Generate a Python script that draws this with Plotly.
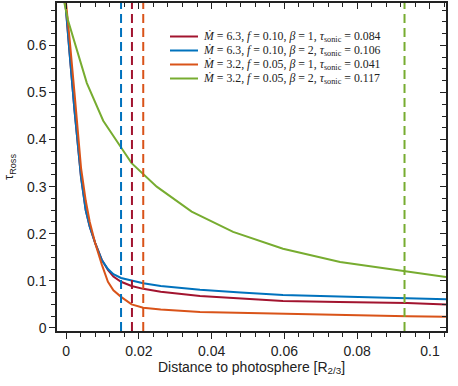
import plotly.graph_objects as go

# distance to photosphere [R_2/3] and tau_Ross for the four models
x_fast = [-0.0004, 0.0, 0.001, 0.0023, 0.0033, 0.0041, 0.0054, 0.0065, 0.008, 0.0098, 0.0115,
          0.013, 0.0151, 0.018, 0.0212, 0.026, 0.0368, 0.048, 0.0596, 0.075, 0.0937, 0.1044]
tau_b1_m63 = [0.71, 0.67, 0.58, 0.463, 0.378, 0.32, 0.25, 0.215, 0.18, 0.145, 0.123,
              0.109, 0.098, 0.089, 0.083, 0.077, 0.068, 0.062, 0.057, 0.055, 0.053, 0.050]
tau_b2_m63 = [0.71, 0.67, 0.58, 0.463, 0.378, 0.32, 0.25, 0.215, 0.18, 0.144, 0.125,
              0.114, 0.106, 0.101, 0.095, 0.089, 0.081, 0.075, 0.070, 0.067, 0.064, 0.061]
tau_b1_m32 = [0.72, 0.69, 0.61, 0.50, 0.41, 0.34, 0.27, 0.225, 0.18, 0.135, 0.098,
              0.080, 0.066, 0.050, 0.043, 0.039, 0.034, 0.032, 0.030, 0.027, 0.025, 0.024]
x_green = [-0.0010, 0.0005, 0.0057, 0.0102, 0.0153, 0.018, 0.0249, 0.0345, 0.0459,
           0.0596, 0.0753, 0.0937, 0.1044]
tau_b2_m32 = [0.71, 0.654, 0.52, 0.44, 0.381, 0.35, 0.30, 0.247, 0.204,
              0.168, 0.140, 0.119, 0.108]

sonic_x = [0.0181, 0.0151, 0.0212, 0.0930]
labels = [
    "<i>Ṁ</i> = 6.3, <i>f</i> = 0.10, <i>β</i> = 1, <i>τ</i><sub>sonic</sub> = 0.084",
    "<i>Ṁ</i> = 6.3, <i>f</i> = 0.10, <i>β</i> = 2, <i>τ</i><sub>sonic</sub> = 0.106",
    "<i>Ṁ</i> = 3.2, <i>f</i> = 0.05, <i>β</i> = 1, <i>τ</i><sub>sonic</sub> = 0.041",
    "<i>Ṁ</i> = 3.2, <i>f</i> = 0.05, <i>β</i> = 2, <i>τ</i><sub>sonic</sub> = 0.117",
]
colors = ["#A2142F", "#0072BD", "#D95319", "#77AC30"]

xs = [x_fast, x_fast, x_fast, x_green]
ys = [tau_b1_m63, tau_b2_m63, tau_b1_m32, tau_b2_m32]

W, H = 458, 386
L, R, T, B = 57, 12, 3, 55
pw, ph = W - L - R, H - T - B

fig = go.Figure()
for xv, c in zip(sonic_x, colors):
    fig.add_vline(x=xv, line=dict(color=c, width=2, dash="9px,5px"))

for xx, yy, name, c in zip(xs, ys, labels, colors):
    fig.add_trace(go.Scatter(x=xx, y=yy, mode="lines", name=name, showlegend=False,
                             line=dict(color=c, width=2)))

# legend drawn by hand (plotly's rows are too tall for this spacing)
for i, (name, c) in enumerate(zip(labels, colors)):
    yrow = (H - B - (36.5 + 14 * i)) / ph
    fig.add_shape(type="line", xref="paper", yref="paper",
                  x0=(170 - L) / pw, x1=(198 - L) / pw, y0=yrow, y1=yrow,
                  line=dict(color=c, width=2))
    fig.add_annotation(xref="paper", yref="paper", x=(201 - L) / pw, y=yrow,
                       xanchor="left", yanchor="middle", showarrow=False, text=name,
                       font=dict(family="Liberation Serif, serif", size=11.8,
                                 color="#222222"))

# dummy trace so the top/right tick axes are drawn
fig.add_trace(go.Scatter(x=[None], y=[None], xaxis="x2", yaxis="y2",
                         showlegend=False, hoverinfo="skip"))

xr = [-0.0025, 0.1044]
yr = [-0.0065, 0.69]
axcol = "#222222"
xt = [0, 0.02, 0.04, 0.06, 0.08, 0.1]
yt = [0, 0.1, 0.2, 0.3, 0.4, 0.5, 0.6]
fig.update_layout(
    width=W, height=H,
    margin=dict(l=L, r=R, t=T, b=B),
    paper_bgcolor="white", plot_bgcolor="white",
    font=dict(family="Liberation Sans, Arial, sans-serif", size=14, color="#222222"),
    showlegend=False,
    xaxis=dict(range=xr, showgrid=False, zeroline=False, showline=True, automargin=False,
               linecolor=axcol, linewidth=1.5, ticks="outside", ticklen=6,
               tickwidth=1.2, tickcolor=axcol,
               tickvals=xt, ticktext=["0", "0.02", "0.04", "0.06", "0.08", "0.1"],
               minor=dict(dtick=0.004, tick0=0, ticks="outside", ticklen=4,
                          tickcolor=axcol, tickwidth=1),
               title=dict(text="Distance to photosphere [R<sub>2/3</sub>]",
                          font=dict(size=14), standoff=4)),
    yaxis=dict(range=yr, showgrid=False, zeroline=False, showline=True, automargin=False,
               linecolor=axcol, linewidth=1.5, ticks="outside", ticklen=6,
               tickwidth=1.2, tickcolor=axcol,
               tickvals=yt, ticktext=["0", "0.1", "0.2", "0.3", "0.4", "0.5", "0.6"],
               minor=dict(dtick=0.025, tick0=0, ticks="outside", ticklen=4,
                          tickcolor=axcol, tickwidth=1),
               title=dict(text="τ<sub>Ross</sub>", font=dict(size=13), standoff=10)),
    xaxis2=dict(range=xr, overlaying="x", side="top", anchor="y2", automargin=False,
                showgrid=False, zeroline=False, showline=True, linecolor=axcol,
                linewidth=1.5, ticks="inside", ticklen=6, tickwidth=1.2,
                tickcolor=axcol, showticklabels=False, tickvals=xt,
                minor=dict(dtick=0.004, tick0=0, ticks="inside", ticklen=4,
                           tickcolor=axcol, tickwidth=1)),
    yaxis2=dict(range=yr, overlaying="y", side="right", anchor="x2", automargin=False,
                showgrid=False, zeroline=False, showline=True, linecolor=axcol,
                linewidth=1.5, ticks="inside", ticklen=6, tickwidth=1.2,
                tickcolor=axcol, showticklabels=False, tickvals=yt,
                minor=dict(dtick=0.025, tick0=0, ticks="inside", ticklen=4,
                           tickcolor=axcol, tickwidth=1)),
)

# the page's default body margin would shift the whole figure by 8px
fig.write_html("out.html", config={"displayModeBar": False},
               post_script="document.body.style.margin='0';")
